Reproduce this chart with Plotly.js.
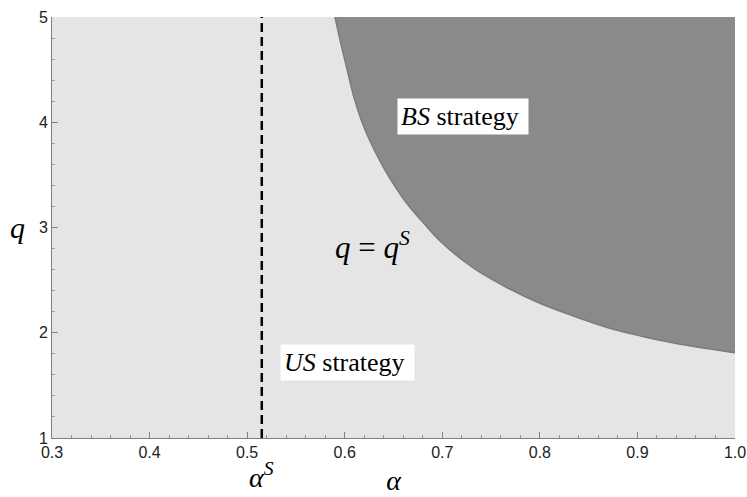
<!DOCTYPE html>
<html>
<head>
<meta charset="utf-8">
<script src="https://cdn.plot.ly/plotly-3.0.1.min.js"></script>
<style>html,body{margin:0;padding:0;background:#fff;}#chart{width:747px;height:497px;}</style>
</head>
<body>
<div id="chart"></div>
<script>
// boundary curve q = q^S(alpha)
var alphaCurve = [0.590, 0.597, 0.604, 0.610, 0.617, 0.624, 0.641, 0.662, 0.682, 0.698, 0.731, 0.766, 0.800, 0.834, 0.869, 0.903, 0.936, 0.971, 1.000];
var qCurve     = [5.00, 4.71, 4.44, 4.22, 4.02, 3.86, 3.55, 3.25, 3.03, 2.87, 2.62, 2.43, 2.28, 2.16, 2.05, 1.97, 1.905, 1.85, 1.81];
var alphaS = 0.515;
var xRange = [0.3, 1.0];
var yRange = [1, 5];
var xTicks = [0.3, 0.4, 0.5, 0.6, 0.7, 0.8, 0.9, 1.0];
var xTickText = ['0.3', '0.4', '0.5', '0.6', '0.7', '0.8', '0.9', '1.0'];
var yTicks = [1, 2, 3, 4, 5];

var topY = alphaCurve.map(function () { return yRange[1]; });

var serif = 'Liberation Serif, DejaVu Serif, serif';
var traces = [
  {x: alphaCurve, y: topY, type: 'scatter', mode: 'lines',
   line: {width: 0, color: 'rgba(0,0,0,0)'}, hoverinfo: 'skip', showlegend: false},
  {x: alphaCurve, y: qCurve, type: 'scatter', mode: 'lines', fill: 'tonexty',
   fillcolor: '#8a8a8a', line: {color: '#7b7b7b', width: 1.5, shape: 'spline', smoothing: 1},
   hoverinfo: 'skip', showlegend: false},
  {x: [alphaS, alphaS], y: yRange, type: 'scatter', mode: 'lines',
   line: {color: '#000', width: 2.5, dash: '9px,5px'}, hoverinfo: 'skip', showlegend: false}
];

var layout = {
  width: 747, height: 497,
  margin: {l: 52, r: 12, t: 17, b: 59},
  paper_bgcolor: '#fff', plot_bgcolor: '#e5e5e5',
  showlegend: false,
  font: {family: 'Liberation Sans, Arial, sans-serif', size: 16, color: '#222'},
  xaxis: {
    range: xRange, tickvals: xTicks, ticktext: xTickText,
    showgrid: false, zeroline: false, showline: true, linecolor: '#808080', linewidth: 1,
    ticks: 'inside', ticklen: 6, tickcolor: '#808080',
    minor: {dtick: 0.02, ticks: 'inside', ticklen: 3, tickcolor: '#999', showgrid: false},
    tickfont: {size: 16, color: '#222'},
    title: {text: '<i>α</i>', font: {family: serif, size: 28, color: '#000'}, standoff: 10}
  },
  yaxis: {
    range: yRange, tickvals: yTicks,
    showgrid: false, zeroline: false, showline: true, linecolor: '#808080', linewidth: 1,
    ticks: 'inside', ticklen: 6, tickcolor: '#808080',
    minor: {dtick: 0.2, ticks: 'inside', ticklen: 3, tickcolor: '#999', showgrid: false},
    tickfont: {size: 16, color: '#222'}
  },
  annotations: [
    {xref: 'paper', yref: 'paper', x: -0.05, y: 0.5, xanchor: 'center', yanchor: 'middle',
     text: '<i>q</i>', showarrow: false, font: {family: serif, size: 30, color: '#000'}},
    {xref: 'x', yref: 'paper', x: alphaS, y: -0.135, yanchor: 'bottom', xanchor: 'center',
     text: '<i>α</i><sup><i>S</i></sup>', showarrow: false, font: {family: serif, size: 28, color: '#000'}},
    {xref: 'x', yref: 'y', x: 0.721, y: 4.05, text: '<i>BS</i> strategy&nbsp;', showarrow: false,
     bgcolor: '#fff', borderpad: 3, font: {family: serif, size: 26, color: '#000'}},
    {xref: 'x', yref: 'y', x: 0.603, y: 1.72, text: '<i>US</i> strategy&nbsp;', showarrow: false,
     bgcolor: '#fff', borderpad: 3, font: {family: serif, size: 26, color: '#000'}},
    {xref: 'x', yref: 'y', x: 0.628, y: 2.83, text: '<i>q</i> = <i>q</i><sup><i>S</i></sup>', showarrow: false,
     font: {family: serif, size: 31, color: '#000'}}
  ]
};

Plotly.newPlot('chart', traces, layout, {displayModeBar: false, staticPlot: true});
</script>
</body>
</html>
